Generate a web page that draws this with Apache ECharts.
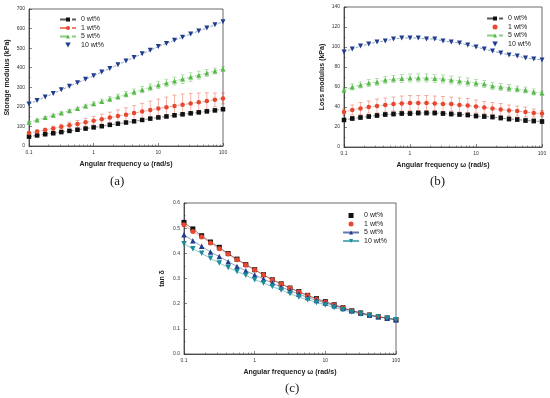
<!DOCTYPE html>
<html><head><meta charset="utf-8">
<script src="https://cdn.jsdelivr.net/npm/echarts@6/dist/echarts.min.js"></script>
<style>html,body{margin:0;padding:0;background:#fff}#c{width:550px;height:398px}</style>
</head><body><div id="c"></div>
<script>
const freq = [0.1, 0.1334, 0.1778, 0.2371, 0.3162, 0.4217, 0.5623, 0.7499, 1, 1.334, 1.778, 2.371, 3.162, 4.217, 5.623, 7.499, 10, 13.34, 17.78, 23.71, 31.62, 42.17, 56.23, 74.99, 100];
const seriesNames = ['0 wt%', '1 wt%', '5 wt%', '10 wt%'];
const xTickLabels = ['0.1', '1', '10', '100'];

// (a) Storage modulus (kPa)
const storage0 = [48, 54, 60, 65, 71, 77, 83, 89, 95, 101, 108, 114, 120, 126, 133, 140, 146, 151, 157, 162, 167, 172, 177, 182, 188];
const storage1 = [66, 74, 82, 90, 98, 106, 113, 121, 129, 137, 145, 153, 160, 168, 176, 184, 192, 198, 205, 211, 217, 223, 230, 236, 243];
const storage5 = [121, 133, 145, 157, 169, 180, 192, 204, 216, 228, 240, 252, 264, 276, 288, 300, 312, 322, 332, 342, 352, 362, 373, 383, 394];
const storage10 = [214, 232, 250, 268, 287, 305, 323, 341, 359, 378, 396, 415, 434, 452, 471, 489, 508, 524, 540, 556, 572, 588, 603, 619, 635];
const storageErr0 = [2, 2, 3, 3, 3, 3, 4, 4, 4, 5, 5, 5, 6, 6, 6, 7, 7, 7, 8, 8, 8, 8, 8, 8, 8];
const storageErr1 = [6, 8, 9, 11, 13, 15, 17, 20, 22, 25, 28, 32, 35, 38, 42, 45, 48, 52, 55, 55, 52, 48, 42, 35, 28];
const storageErr5 = [4, 5, 5, 6, 6, 7, 8, 9, 10, 11, 12, 13, 14, 15, 16, 17, 18, 19, 20, 22, 22, 20, 18, 15, 12];

// (b) Loss modulus (kPa)
const loss0 = [27, 28.5, 29.5, 30.5, 31.5, 32.5, 33, 33.5, 33.5, 34, 34, 34, 33.5, 33, 32.5, 32, 31, 30.5, 30, 29, 28, 27.5, 26.5, 26, 25.5];
const loss1 = [35, 37, 38.5, 40, 41, 42, 43, 43.5, 44, 44, 44, 43.5, 43, 43, 42, 41.5, 40.5, 39.5, 38.5, 37.5, 36.5, 36, 35, 34, 33.5];
const loss5 = [57, 60, 62, 64, 65, 67, 68, 68.5, 69, 69, 69, 68.5, 68, 67, 66, 65, 64, 63, 61, 60, 59, 58, 57, 55, 54];
const loss10 = [95, 98, 101, 103, 105, 106, 108, 109, 109, 109, 108, 108, 106, 105, 104, 102, 100, 98, 96, 94, 92, 91, 89, 88, 87];
const lossErr0 = [1.5, 2, 2, 2, 2, 2, 2, 2, 2, 2, 2, 2, 2, 2, 2, 2, 2, 2, 2, 2, 2, 2, 2, 2, 2];
const lossErr1 = [3, 5, 6, 6, 7, 7, 7, 7.5, 7.5, 7.5, 7.5, 7.5, 7.5, 7, 7, 7, 6.5, 6, 6, 6, 5.5, 5, 5, 4, 3];
const lossErr5 = [2, 3, 3, 3.5, 3.5, 3.5, 3.5, 4, 4, 4, 4, 4, 4, 4, 4, 4, 3.5, 3.5, 3.5, 3.5, 3.5, 3, 3, 3, 2];

// (c) tan delta
const tan0 = [0.523, 0.497, 0.470, 0.445, 0.424, 0.399, 0.377, 0.355, 0.335, 0.315, 0.295, 0.279, 0.262, 0.248, 0.233, 0.220, 0.208, 0.196, 0.184, 0.172, 0.163, 0.155, 0.148, 0.143, 0.136];
const tan1 = [0.514, 0.487, 0.465, 0.441, 0.418, 0.397, 0.375, 0.354, 0.334, 0.314, 0.294, 0.278, 0.262, 0.246, 0.232, 0.218, 0.206, 0.196, 0.184, 0.173, 0.163, 0.155, 0.148, 0.143, 0.136];
const tan5 = [0.474, 0.450, 0.428, 0.405, 0.387, 0.367, 0.348, 0.331, 0.314, 0.298, 0.282, 0.266, 0.252, 0.238, 0.225, 0.213, 0.203, 0.192, 0.181, 0.172, 0.163, 0.155, 0.148, 0.142, 0.136];
const tan10 = [0.438, 0.418, 0.400, 0.380, 0.362, 0.344, 0.328, 0.313, 0.295, 0.282, 0.268, 0.254, 0.240, 0.226, 0.216, 0.205, 0.195, 0.185, 0.176, 0.167, 0.159, 0.152, 0.147, 0.142, 0.136];

const colBlack = '#111111', colRed = '#e8472f', colGreen = '#58b94b', colNavy = '#1f3d8c', colTeal = '#1b8c9a';
const invTri = 'path://M0,0L10,0L5,9Z';
const square = 'path://M0,0L10,0L10,10L0,10Z';
const FONT = 'Liberation Sans';

const pairs = (ys) => freq.map((f, i) => [f, ys[i]]);
const errData = (ys, es) => freq.map((f, i) => [f, ys[i] - es[i], ys[i] + es[i]]);

function errRender(params, api) {
  const x = api.value(0), lo = api.value(1), hi = api.value(2);
  const p1 = api.coord([x, hi]), p2 = api.coord([x, lo]);
  const c = api.visual('color');
  const w = 2;
  const st = { stroke: c, lineWidth: 0.7, opacity: 0.6 };
  return { type: 'group', children: [
    { type: 'line', shape: { x1: p1[0], y1: p1[1], x2: p2[0], y2: p2[1] }, style: st },
    { type: 'line', shape: { x1: p1[0] - w, y1: p1[1], x2: p1[0] + w, y2: p1[1] }, style: st },
    { type: 'line', shape: { x1: p2[0] - w, y1: p2[1], x2: p2[0] + w, y2: p2[1] }, style: st }
  ]};
}

function xAxis(gi) {
  return {
    type: 'log', logBase: 10, min: 0.1, max: 100, gridIndex: gi,
    name: 'Angular frequency \u03c9 (rad/s)', nameLocation: 'middle', nameGap: 15,
    nameTextStyle: { fontFamily: FONT, fontSize: 7, fontWeight: 'bold', color: '#222' },
    axisLine: { lineStyle: { color: '#333', width: 0.8 } },
    axisTick: { inside: true, length: 3, lineStyle: { color: '#333', width: 0.6 } },
    minorTick: { show: true, splitNumber: 9, length: 1.5, lineStyle: { color: '#333', width: 0.5 } },
    axisLabel: { fontFamily: FONT, fontSize: 5, color: '#333', margin: 4,
      formatter: (v) => { const s = xTickLabels.find(t => Math.abs(parseFloat(t) - v) < 1e-6 * parseFloat(t) + 1e-9); return s || ''; } },
    splitLine: { show: false }
  };
}
function yAxis(gi, name, max, interval, fmt, gap) {
  return {
    type: 'value', min: 0, max: max, interval: interval, gridIndex: gi,
    name: name, nameLocation: 'middle', nameGap: gap,
    nameTextStyle: { fontFamily: FONT, fontSize: 7, fontWeight: 'bold', color: '#222' },
    axisLine: { show: true, lineStyle: { color: '#333', width: 0.8 } },
    axisTick: { show: true, inside: true, length: 3, lineStyle: { color: '#333', width: 0.6 } },
    minorTick: { show: true, splitNumber: 2, length: 1.5, lineStyle: { color: '#333', width: 0.5 } },
    axisLabel: { fontFamily: FONT, fontSize: 5, color: '#333', margin: 4, formatter: fmt },
    splitLine: { show: false }
  };
}
function lineS(name, gi, ys, color, symbol, size, lineType) {
  return {
    type: 'line', name: name, xAxisIndex: gi, yAxisIndex: gi, data: pairs(ys),
    symbol: symbol, symbolSize: size, color: color,
    itemStyle: { color: color },
    lineStyle: { color: color, width: 0.7, type: lineType, opacity: 0.7 },
    z: 3, animation: false
  };
}
function errS(gi, ys, es, color) {
  return {
    type: 'custom', xAxisIndex: gi, yAxisIndex: gi, data: errData(ys, es),
    renderItem: errRender, itemStyle: { color: color }, z: 2, animation: false,
    encode: { x: 0, y: [1, 2] }
  };
}
function legend(items, pos) {
  return Object.assign({
    orient: 'vertical', itemWidth: 16, itemHeight: 5, itemGap: 1.5,
    textStyle: { fontFamily: FONT, fontSize: 7, color: '#222' },
    data: items
  }, pos);
}

// zero-width suffixes keep each panel's legend independent
const zw = ['', '\u200b', '\u200b\u200b'];
const nm = (g, i) => seriesNames[i] + zw[g];

const option = {
  backgroundColor: '#fff',
  animation: false,
  grid: [
    { left: 29, right: 327, top: 9, bottom: 252, show: true, borderColor: '#444', borderWidth: 0.8 },
    { left: 344, right: 8, top: 7, bottom: 251, show: true, borderColor: '#444', borderWidth: 0.8 },
    { left: 184, right: 154, top: 203, bottom: 44, show: true, borderColor: '#444', borderWidth: 0.8 }
  ],
  xAxis: [xAxis(0), xAxis(1), xAxis(2)],
  yAxis: [
    yAxis(0, 'Storage modulus (kPa)', 700, 100, (v) => String(v), 18),
    yAxis(1, 'Loss modulus (kPa)', 140, 20, (v) => String(v), 18),
    yAxis(2, 'tan \u03b4', 0.6, 0.1, (v) => v.toFixed(1), 18)
  ],
  legend: [
    legend([{ name: nm(0,0) }, { name: nm(0,1) }, { name: nm(0,2) }, { name: nm(0,3), icon: invTri }], { left: 54, top: 11 }),
    legend([{ name: nm(1,0) }, { name: nm(1,1), icon: 'circle' }, { name: nm(1,2) }, { name: nm(1,3), icon: invTri }], { right: 14, top: 10 }),
    legend([{ name: nm(2,0), icon: square }, { name: nm(2,1), icon: 'circle' }, { name: nm(2,2) }, { name: nm(2,3) }], { right: 158, top: 207 })
  ],
  series: [
    errS(0, storage0, storageErr0, colBlack), errS(0, storage1, storageErr1, colRed), errS(0, storage5, storageErr5, colGreen),
    lineS(nm(0,0), 0, storage0, colBlack, 'rect', 4.5, 'dashed'),
    lineS(nm(0,1), 0, storage1, colRed, 'circle', 4.5, 'dashed'),
    lineS(nm(0,2), 0, storage5, colGreen, 'triangle', 5, 'dashed'),
    lineS(nm(0,3), 0, storage10, colNavy, invTri, 5, 'dashed'),
    errS(1, loss0, lossErr0, colBlack), errS(1, loss1, lossErr1, colRed), errS(1, loss5, lossErr5, colGreen),
    lineS(nm(1,0), 1, loss0, colBlack, 'rect', 4.5, 'dashed'),
    lineS(nm(1,1), 1, loss1, colRed, 'circle', 4.5, 'dashed'),
    lineS(nm(1,2), 1, loss5, colGreen, 'triangle', 5, 'dashed'),
    lineS(nm(1,3), 1, loss10, colNavy, invTri, 5, 'dashed'),
    lineS(nm(2,0), 2, tan0, colBlack, 'rect', 5, 'solid'),
    lineS(nm(2,1), 2, tan1, colRed, 'circle', 5, 'solid'),
    lineS(nm(2,2), 2, tan5, colNavy, 'triangle', 5.5, 'solid'),
    lineS(nm(2,3), 2, tan10, colTeal, invTri, 5.5, 'solid')
  ],
  graphic: [
    { type: 'text', left: 110, top: 175, style: { text: '(a)', font: '13px "Liberation Serif"', fill: '#222' } },
    { type: 'text', left: 430, top: 175, style: { text: '(b)', font: '13px "Liberation Serif"', fill: '#222' } },
    { type: 'text', left: 285, top: 382, style: { text: '(c)', font: '13px "Liberation Serif"', fill: '#222' } }
  ]
};

const chart = echarts.init(document.getElementById('c'), null, { renderer: 'canvas' });
chart.setOption(option);
</script></body></html>
